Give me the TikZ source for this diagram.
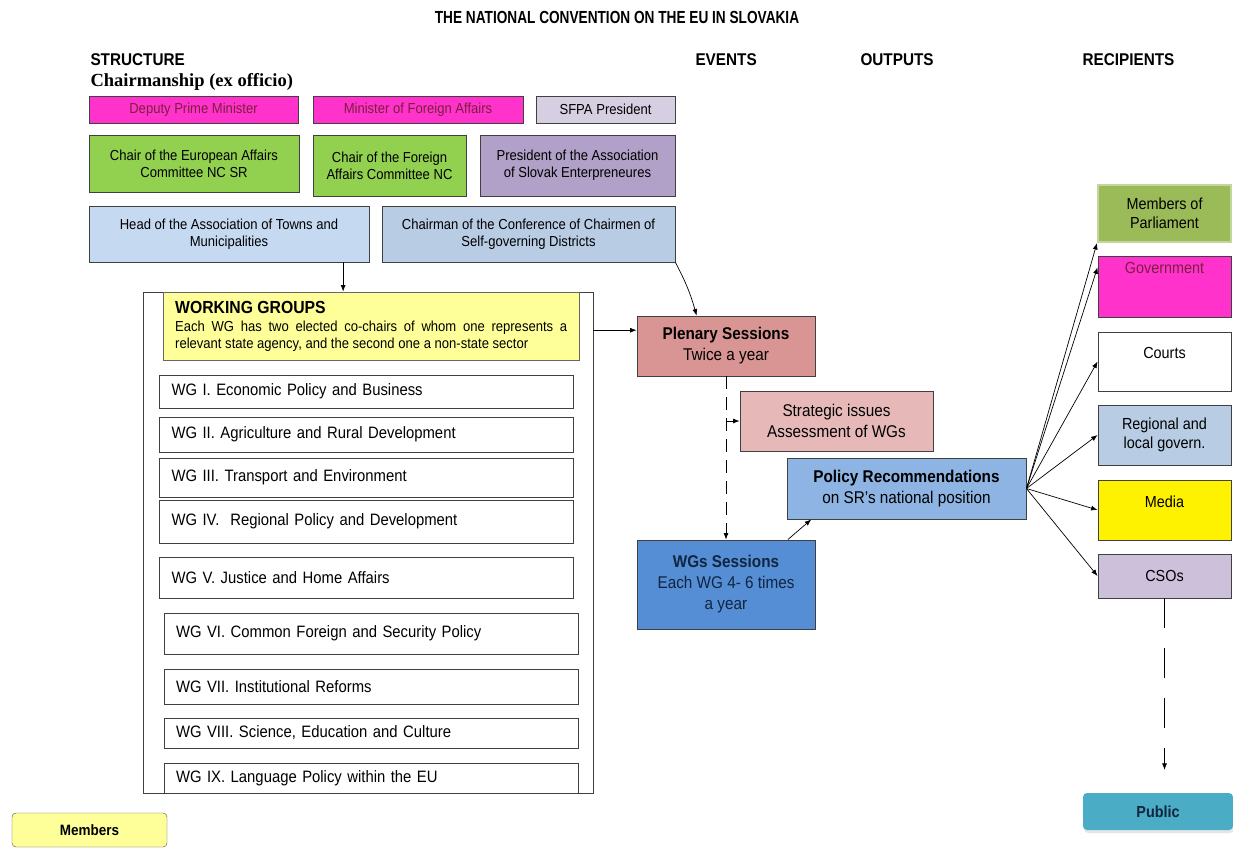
\documentclass[tikz,border=0pt]{standalone}
\usepackage{fontspec}
\setmainfont{Liberation Sans}[FakeStretch=0.9]
\newfontfamily\titlefont{Liberation Sans}[FakeStretch=0.78]
\newfontfamily\chairfont{Liberation Serif}
\usetikzlibrary{shadows}
\usetikzlibrary{arrows.meta}

\definecolor{pinkbox}{HTML}{FF33CC}
\definecolor{pinktext}{HTML}{7A1F3D}
\definecolor{lilac}{HTML}{D6CFE2}
\definecolor{greenbox}{HTML}{92D050}
\definecolor{purplebox}{HTML}{B1A0C7}
\definecolor{paleblue}{HTML}{C5D9F1}
\definecolor{greyblue}{HTML}{B8CCE4}
\definecolor{wgyellow}{HTML}{FFFF99}
\definecolor{plenaryred}{HTML}{D99594}
\definecolor{strategicred}{HTML}{E6B9B8}
\definecolor{policyblue}{HTML}{8DB4E2}
\definecolor{sessionblue}{HTML}{558ED5}
\definecolor{navytext}{HTML}{10253F}
\definecolor{mpgreen}{HTML}{9BBB59}
\definecolor{mpedge}{HTML}{C3D69B}
\definecolor{csolilac}{HTML}{CCC0DA}
\definecolor{publicblue}{HTML}{4BACC6}

\begin{document}
\begin{tikzpicture}[x=1pt,y=-1pt,>={Latex[length=6.5pt,width=5pt]},
    box/.style={draw=black!75,line width=0.9pt,align=center,inner sep=2pt,font=\fontsize{14.5}{17}\selectfont},
    wg/.style={draw=black!75,line width=0.9pt,text width=390pt,inner xsep=12pt,align=left,font=\fontsize{16.5}{19}\selectfont},
    ev/.style={draw=black!75,line width=0.9pt,align=center,minimum width=178pt,font=\fontsize{17}{21}\selectfont},
    rec/.style={draw=black!75,line width=0.9pt,align=center,minimum width=133pt,inner sep=3pt,font=\fontsize{16}{19}\selectfont},
    toptext/.style={text height=12pt,text depth=#1},
    colhead/.style={font=\bfseries\fontsize{17}{20}\selectfont},
    link/.style={->,line width=0.7pt},
    dashlink/.style={->,line width=0.7pt,dash pattern=on 13pt off 8pt}]
    \useasboundingbox (0,0) rectangle (1233,848);

    % headings
    \node[font=\titlefont\bfseries\fontsize{17.5}{20}\selectfont] (title) at (617,17) {THE NATIONAL CONVENTION ON THE EU IN SLOVAKIA};
    \node[colhead,anchor=west] (structure) at (87,60) {STRUCTURE};
    \node[colhead,anchor=west] (events) at (692,60) {EVENTS};
    \node[colhead,anchor=west] (outputs) at (857,60) {OUTPUTS};
    \node[colhead,anchor=west] (recipients) at (1079,60) {RECIPIENTS};
    \node[font=\chairfont\bfseries\fontsize{18.5}{21}\selectfont,anchor=west] (chair) at (87,82) {Chairmanship (ex officio)};

    % chairmanship
    \node[box,fill=pinkbox,text=pinktext,minimum width=209pt,minimum height=27pt] (deputy) at (193.5,109.5) {Deputy Prime Minister};
    \node[box,fill=pinkbox,text=pinktext,minimum width=210pt,minimum height=27pt] (minister) at (418,109.5) {Minister of Foreign Affairs};
    \node[box,fill=lilac,minimum width=139pt,minimum height=27pt] (sfpa) at (605.5,109.5) {SFPA President};
    \node[box,fill=greenbox,minimum width=210pt,minimum height=57pt] (chaireu) at (194,163.5) {Chair of the European Affairs\\Committee NC SR};
    \node[box,fill=greenbox,minimum width=153pt,minimum height=61pt] (chairfa) at (389.5,165.5) {Chair of the Foreign\\Affairs Committee NC};
    \node[box,fill=purplebox,minimum width=195pt,minimum height=61pt] (enterprise) at (577.5,165.5) {President of the Association\\of Slovak Enterpreneures};
    \node[box,fill=paleblue,minimum width=280pt,minimum height=56pt] (head) at (229,234) {Head of the Association of Towns and\\Municipalities};
    \node[box,fill=greyblue,minimum width=293pt,minimum height=56pt] (chairman) at (528.5,234) {Chairman of the Conference of Chairmen of\\Self-governing Districts};

    % working groups
    \node[draw=black!75,line width=0.9pt,minimum width=450pt,minimum height=501pt] (wgbox) at (368,542.5) {};
    \node[draw=black!60,fill=wgyellow,anchor=north west,text width=392pt,inner xsep=12pt,inner ysep=2pt,minimum height=68pt,align=justify,font=\fontsize{14.5}{17}\selectfont] (wghead) at (163,292)
        {{\bfseries\fontsize{17.5}{20}\selectfont WORKING GROUPS}\\[1pt]
         Each WG has two elected co-chairs of whom one represents a\linebreak relevant state agency, and the second one a non-state sector};
    \node[wg,minimum height=33pt] (wg1) at (366.5,391.5) {WG I. Economic Policy and Business};
    \node[wg,minimum height=35pt] (wg2) at (366.5,434.5) {WG II. Agriculture and Rural Development};
    \node[wg,minimum height=39pt] (wg3) at (366.5,477.5) {WG III. Transport and Environment};
    \node[wg,minimum height=43pt] (wg4) at (366.5,521.5) {WG IV.\ \ Regional Policy and Development};
    \node[wg,minimum height=41pt] (wg5) at (366.5,577.5) {WG V. Justice and Home Affairs};
    \node[wg,minimum height=41pt] (wg6) at (371,633.5) {WG VI. Common Foreign and Security Policy};
    \node[wg,minimum height=35pt] (wg7) at (371,686.5) {WG VII. Institutional Reforms};
    \node[wg,minimum height=30pt] (wg8) at (371,733) {WG VIII. Science, Education and Culture};
    \node[wg,minimum height=30pt] (wg9) at (371,778) {WG IX. Language Policy within the EU};

    % events and outputs
    \node[ev,fill=plenaryred,minimum height=60pt] (plenary) at (726,346) {\textbf{Plenary Sessions}\\Twice a year};
    \node[ev,fill=strategicred,minimum width=193pt,minimum height=60pt] (strategic) at (836.5,421) {Strategic issues\\Assessment of WGs};
    \node[ev,fill=policyblue,minimum width=239pt,minimum height=61pt] (policy) at (906.5,488.5) {\textbf{Policy Recommendations}\\on SR’s national position};
    \node[ev,fill=sessionblue,text=navytext,minimum height=89pt] (wgsess) at (726,584.5) {\textbf{WGs Sessions}\\Each WG 4- 6 times\\a year};

    % recipients
    \node[rec,fill=mpgreen,draw=mpedge,line width=2pt,minimum height=57pt] (mp) at (1164.5,213.5) {Members of\\Parliament};
    \node[rec,fill=pinkbox,text=pinktext,toptext=37.6pt,minimum height=61pt] (gov) at (1164.5,286.5) {Government};
    \node[rec,fill=white,toptext=17.6pt,minimum height=59pt] (courts) at (1164.5,361.5) {Courts};
    \node[rec,fill=greyblue,minimum height=60pt] (regional) at (1164.5,435) {Regional and\\local govern.};
    \node[rec,fill=yellow,toptext=17pt,minimum height=60pt] (media) at (1164.5,510) {Media};
    \node[rec,fill=csolilac,minimum height=44pt] (csos) at (1164.5,576) {CSOs};
    \node[rounded corners=4pt,fill=publicblue,text=navytext,minimum width=150pt,minimum height=37pt,font=\bfseries\fontsize{16}{19}\selectfont,
          drop shadow={shadow xshift=1pt,shadow yshift=-3pt,fill=black!20}] (public) at (1158,811.5) {Public};

    % legend
    \node[draw=black!70,rounded corners=4pt,fill=wgyellow,minimum width=155pt,minimum height=34pt,font=\bfseries\fontsize{15}{18}\selectfont] (members) at (89.5,830) {Members};

    % connectors
    \draw[link] (head.-14) -- (head.-14 |- wgbox.north);
    \draw[link] (chairman.south east) to[bend left=6] (plenary.134);
    \draw[link] (wgbox.east |- plenary.170) -- (plenary.170);
    \draw[dashlink] (plenary.south) -- (wgsess.north);
    \draw[link] (plenary.south |- strategic.west) -- (strategic.west);
    \draw[link] (wgsess.36) -- (policy.198);
    \draw[link] (policy.east) -- (mp.south west);
    \draw[link] (policy.east) -- (gov.164);
    \draw[link] (policy.east) -- (courts.west);
    \draw[link] (policy.east) -- (regional.west);
    \draw[link] (policy.east) -- (media.west);
    \draw[link] (policy.east) -- (csos.west);
    \draw[->,line width=0.6pt,dash pattern=on 30pt off 20pt,shorten >=23pt] (csos.south) -- (csos.south |- public.north);
\end{tikzpicture}
\end{document}
